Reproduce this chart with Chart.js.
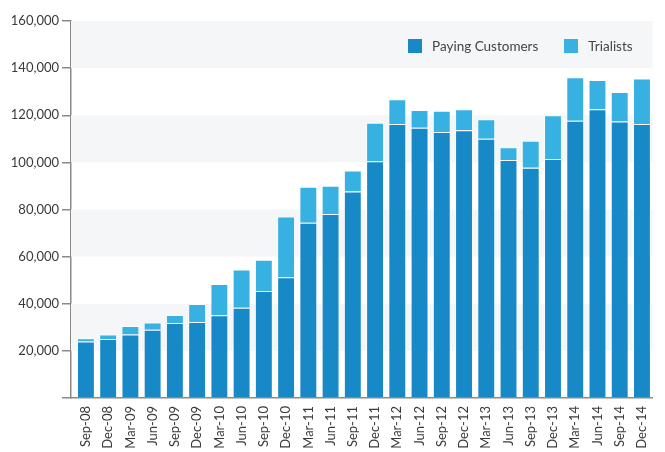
<!DOCTYPE html>
<html>
<head>
<meta charset="utf-8">
<script src="https://cdn.jsdelivr.net/npm/chart.js@4.4.1/dist/chart.umd.min.js"></script>
<style>
  html, body { margin: 0; padding: 0; background: #fff; }
  #wrap { position: relative; width: 665px; height: 452px; }
  #legend { position: absolute; top: 38px; left: 408px; font: 13.5px Lato, sans-serif; color: #444; white-space: nowrap; }
  #legend span.item { display: inline-block; margin-right: 26px; }
  #legend span.box { display: inline-block; width: 14px; height: 14px; vertical-align: -2px; margin-right: 10px; }
</style>
</head>
<body>
<div id="wrap">
  <canvas id="chart" width="665" height="452"></canvas>
  <div id="legend"></div>
</div>
<script>
const quarters = ['Sep-08','Dec-08','Mar-09','Jun-09','Sep-09','Dec-09','Mar-10','Jun-10','Sep-10','Dec-10',
    'Mar-11','Jun-11','Sep-11','Dec-11','Mar-12','Jun-12','Sep-12','Dec-12','Mar-13','Jun-13',
    'Sep-13','Dec-13','Mar-14','Jun-14','Sep-14','Dec-14'];

const payingCustomers = [24000, 25000, 27000, 29000, 31800, 32300, 35100, 38300, 45400, 51200,
    74400, 78100, 87600, 100500, 116300, 114700, 112900, 113600, 110000, 101000,
    97700, 101400, 117700, 122500, 117300, 116300];

const trialists = [1400, 2000, 3600, 3000, 3400, 7600, 13300, 16200, 13300, 25800,
    15300, 12000, 8900, 16300, 10500, 7500, 9000, 8900, 8300, 5400,
    11500, 18600, 18400, 12500, 12600, 19300];

const yTicks = [20000, 40000, 60000, 80000, 100000, 120000, 140000, 160000];

const payingColor = '#1789c6';
const trialColor = '#36b1e2';
const fontFamily = 'Lato, sans-serif';

// shaded bands every other tick interval
const bandPlugin = {
    id: 'bands',
    beforeDatasetsDraw(chart) {
        const { ctx, chartArea, scales } = chart;
        const y = scales.y;
        ctx.save();
        ctx.fillStyle = '#f5f6f8';
        for (let i = 0; i < yTicks.length; i += 2) {
            const top = y.getPixelForValue(yTicks[i + 1]);
            const bottom = y.getPixelForValue(yTicks[i]);
            ctx.fillRect(chartArea.left, top, chartArea.right - chartArea.left, bottom - top);
        }
        ctx.restore();
    }
};

// the first category starts a few px right of the y axis
const shiftPlugin = {
    id: 'shift',
    afterLayout(chart) {
        const x = chart.scales.x;
        x._startPixel = x.left + 3.8;
        x._length = x.right + 0.5 - x._startPixel;
    }
};

const ctx = document.getElementById('chart').getContext('2d');
const trendChart = new Chart(ctx, {
    type: 'bar',
    data: {
        labels: quarters,
        datasets: [{
            label: 'Paying Customers',
            data: payingCustomers,
            backgroundColor: payingColor,
            borderColor: 'rgba(255,255,255,0.55)',
            borderWidth: 1,
            borderSkipped: 'bottom',
            barPercentage: 0.805,
            categoryPercentage: 1.0
        }, {
            label: 'Trialists',
            data: trialists,
            backgroundColor: trialColor,
            borderColor: 'rgba(255,255,255,0.55)',
            borderWidth: 1,
            borderSkipped: 'bottom',
            barPercentage: 0.805,
            categoryPercentage: 1.0
        }]
    },
    options: {
        responsive: false,
        animation: false,
        layout: { padding: { top: 21, right: 0, left: 0, bottom: 0 } },
        plugins: {
            legend: { display: false },
            tooltip: { enabled: false }
        },
        scales: {
            x: {
                stacked: true,
                grid: { display: false, drawTicks: false },
                border: { display: true, color: '#8a8a8a', width: 1.5 },
                ticks: {
                    autoSkip: false,
                    maxRotation: 90,
                    minRotation: 90,
                    padding: 8,
                    color: '#3a3a3a',
                    font: { family: fontFamily, size: 13 }
                },
                afterFit(scale) { scale.height = 54; }
            },
            y: {
                stacked: true,
                min: 0,
                max: 160000,
                grid: { drawOnChartArea: false, tickLength: 9, color: '#8a8a8a', lineWidth: 1.5 },
                border: { display: true, color: '#8a8a8a', width: 1.5 },
                ticks: {
                    stepSize: 20000,
                    padding: 3,
                    color: '#3a3a3a',
                    font: { family: fontFamily, size: 13 },
                    callback: v => v === 0 ? '' : v.toLocaleString('en-US')
                },
                afterFit(scale) { scale.width = 71; }
            }
        }
    },
    plugins: [bandPlugin, shiftPlugin]
});

// legend as html, built from the datasets
document.getElementById('legend').innerHTML = trendChart.data.datasets.map(ds =>
    `<span class="item"><span class="box" style="background:${ds.backgroundColor}"></span>${ds.label}</span>`
).join('');
</script>
</body>
</html>
